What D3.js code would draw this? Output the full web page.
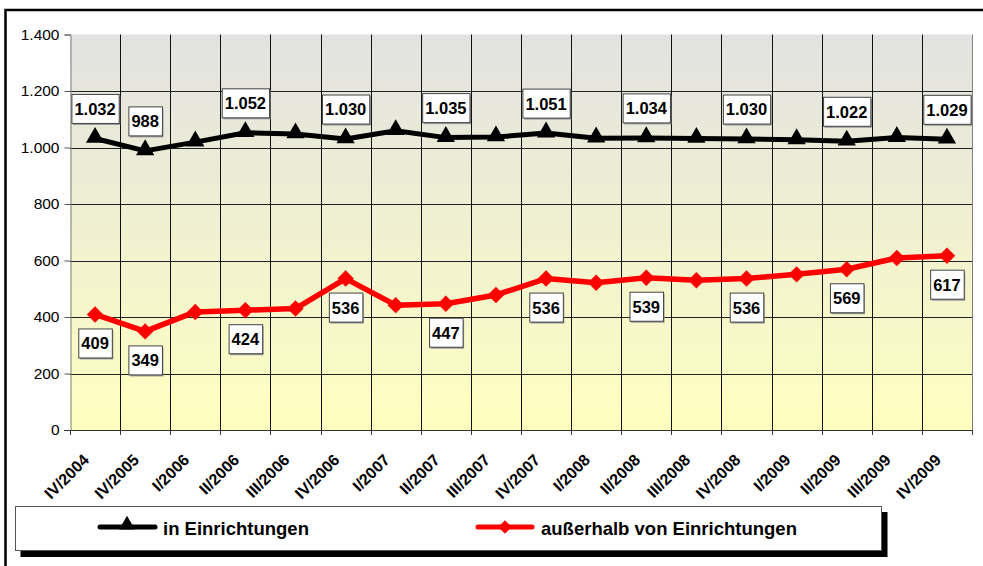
<!DOCTYPE html>
<html>
<head>
<meta charset="utf-8">
<script src="https://cdn.jsdelivr.net/npm/d3@7"></script>
<style>
    body { margin: 0; background: #fff; }
    svg { display: block; font-family: "Liberation Sans", Arial, sans-serif; }
</style>
</head>
<body>
<svg id="chart" width="983" height="566"></svg>
<script>
var categories = ["IV/2004", "IV/2005", "I/2006", "II/2006", "III/2006", "IV/2006",
    "I/2007", "II/2007", "III/2007", "IV/2007", "I/2008", "II/2008", "III/2008",
    "IV/2008", "I/2009", "II/2009", "III/2009", "IV/2009"];
var inEinrichtungen = [1032, 988, 1019, 1052, 1048, 1030, 1059, 1035, 1037, 1051,
    1033, 1034, 1032, 1030, 1027, 1022, 1035, 1029];
var ausserhalb = [409, 349, 418, 424, 430, 536, 442, 447, 478, 536,
    521, 539, 530, 536, 551, 569, 609, 617];
var labelled = [0, 1, 3, 5, 7, 9, 11, 13, 15, 17];
var yTicks = [0, 200, 400, 600, 800, 1000, 1200, 1400];
var seriesNames = ["in Einrichtungen", "außerhalb von Einrichtungen"];

(function () {
    var svg = d3.select("#chart");
    var left = 70, right = 972, top = 34.5, bottom = 430;

    var de = d3.formatLocale({decimal: ",", thousands: ".", grouping: [3], currency: ["", " €"]});
    var fmt = de.format(",d");

    var x = d3.scaleBand().domain(categories).range([left, right]).padding(0);
    var y = d3.scaleLinear().domain([0, 1400]).range([bottom, top]);
    var cx = function (d, i) { return x(categories[i]) + x.bandwidth() / 2; };

    // outer frame (cut off at right and bottom)
    svg.append("rect")
        .attr("x", 5.5).attr("y", 10)
        .attr("width", 1200).attr("height", 1000)
        .style("fill", "none").style("stroke", "#000").style("stroke-width", 2.5);

    var grad = svg.append("defs").append("linearGradient")
        .attr("id", "bg").attr("x1", 0).attr("y1", 0).attr("x2", 0).attr("y2", 1);
    grad.append("stop").attr("offset", "0%").attr("stop-color", "#e2e2e2");
    grad.append("stop").attr("offset", "100%").attr("stop-color", "#ffffc0");

    svg.append("rect")
        .attr("x", left).attr("y", top)
        .attr("width", right - left).attr("height", bottom - top)
        .style("fill", "url(#bg)");

    // grid
    svg.append("g").selectAll("line")
        .data(yTicks.slice(1, -1))
        .enter().append("line")
        .attr("x1", left).attr("x2", right)
        .attr("y1", function (d) { return Math.round(y(d)) + 0.5; })
        .attr("y2", function (d) { return Math.round(y(d)) + 0.5; })
        .style("stroke", "#222").style("stroke-width", 1);

    var bounds = categories.map(function (c) { return x(c); }).concat([right]);
    svg.append("g").selectAll("line")
        .data(bounds.slice(1))
        .enter().append("line")
        .attr("x1", function (d) { return Math.round(d) + 0.5; })
        .attr("x2", function (d) { return Math.round(d) + 0.5; })
        .attr("y1", top).attr("y2", bottom + 5)
        .style("stroke", function (d, i) { return i === bounds.length - 2 ? "#808080" : "#111"; })
        .style("stroke-width", 1);

    // y axis
    var yAxis = svg.append("g")
        .attr("transform", "translate(" + (left + 0.5) + ",0)")
        .call(d3.axisLeft(y).tickValues(yTicks).tickFormat(fmt).tickSize(6).tickPadding(5));
    yAxis.select(".domain").style("stroke", "#808080");
    yAxis.selectAll(".tick line").style("stroke", "#555");
    yAxis.selectAll("text").style("font-size", "15.5px").style("fill", "#000")
        .style("font-family", "'Liberation Sans', Arial, sans-serif");

    // x axis
    svg.append("line")
        .attr("x1", left - 6).attr("x2", right)
        .attr("y1", bottom + 0.5).attr("y2", bottom + 0.5)
        .style("stroke", "#333");
    svg.append("g").selectAll("line")
        .data(bounds)
        .enter().append("line")
        .attr("x1", function (d) { return Math.round(d) + 0.5; })
        .attr("x2", function (d) { return Math.round(d) + 0.5; })
        .attr("y1", bottom).attr("y2", bottom + 5)
        .style("stroke", "#333");
    svg.append("g").selectAll("text")
        .data(categories)
        .enter().append("text")
        .attr("transform", function (d, i) {
            return "translate(" + (cx(d, i) - 5) + "," + (bottom + 31) + ") rotate(-45)";
        })
        .attr("text-anchor", "end")
        .style("font-size", "16px").style("font-weight", "bold")
        .text(function (d) { return d; });

    // series
    var line = d3.line()
        .x(function (d, i) { return cx(d, i); })
        .y(function (d) { return y(d); });

    svg.append("path").datum(ausserhalb)
        .attr("d", line)
        .style("fill", "none").style("stroke", "#ff0000").style("stroke-width", 5.5)
        .style("stroke-linejoin", "round");
    svg.append("g").selectAll("path")
        .data(ausserhalb)
        .enter().append("path")
        .attr("d", d3.symbol(d3.symbolSquare, 135))
        .attr("transform", function (d, i) { return "translate(" + cx(d, i) + "," + y(d) + ") rotate(45)"; })
        .style("fill", "#ff0000");

    svg.append("path").datum(inEinrichtungen)
        .attr("d", line)
        .style("fill", "none").style("stroke", "#000").style("stroke-width", 5)
        .style("stroke-linejoin", "round");
    svg.append("g").selectAll("path")
        .data(inEinrichtungen)
        .enter().append("path")
        .attr("d", d3.symbol(d3.symbolTriangle, 145))
        .attr("transform", function (d, i) { return "translate(" + cx(d, i) + "," + (y(d) - 1) + ")"; })
        .style("fill", "#000");

    // data labels
    function labels(values, offset) {
        var g = svg.append("g").selectAll("g")
            .data(labelled)
            .enter().append("g")
            .attr("transform", function (i) {
                return "translate(" + cx(null, i) + "," + (y(values[i]) + offset) + ")";
            });
        var t = g.append("text")
            .attr("text-anchor", "middle")
            .attr("dy", "0.36em")
            .style("font-size", "16.5px").style("font-weight", "bold")
            .text(function (i) { return fmt(values[i]); });
        t.each(function () {
            var w = this.getComputedTextLength() + 6;
            var p = d3.select(this.parentNode);
            p.insert("rect", "text")
                .attr("x", -w / 2 + 1.5).attr("y", -13)
                .attr("width", w).attr("height", 29)
                .style("fill", "#999");
            p.insert("rect", "text")
                .attr("x", -w / 2 + 0.5).attr("y", -14.5)
                .attr("width", w).attr("height", 29)
                .style("fill", "#fff").style("stroke", "#444").style("stroke-width", 1);
        });
    }
    labels(inEinrichtungen, -29.5);
    labels(ausserhalb, 29);

    // legend
    var lg = svg.append("g");
    lg.append("rect")
        .attr("x", 20.5).attr("y", 512)
        .attr("width", 867).attr("height", 45)
        .style("fill", "#000");
    lg.append("rect")
        .attr("x", 15.5).attr("y", 506.5)
        .attr("width", 866).attr("height", 44)
        .style("fill", "#fff").style("stroke", "#555").style("stroke-width", 1);

    lg.append("line")
        .attr("x1", 100).attr("x2", 155).attr("y1", 527).attr("y2", 527)
        .style("stroke", "#000").style("stroke-width", 5).style("stroke-linecap", "round");
    lg.append("path")
        .attr("d", d3.symbol(d3.symbolTriangle, 110))
        .attr("transform", "translate(127,525)")
        .style("fill", "#000");
    lg.append("line")
        .attr("x1", 478).attr("x2", 532).attr("y1", 527).attr("y2", 527)
        .style("stroke", "#ff0000").style("stroke-width", 5).style("stroke-linecap", "round");
    lg.append("path")
        .attr("d", d3.symbol(d3.symbolSquare, 90))
        .attr("transform", "translate(505,527) rotate(45)")
        .style("fill", "#ff0000");

    lg.selectAll("text")
        .data(seriesNames)
        .enter().append("text")
        .attr("x", function (d, i) { return i === 0 ? 163 : 541; })
        .attr("y", 535)
        .style("font-size", "18.5px").style("font-weight", "bold")
        .text(function (d) { return d; });
}());
</script>
</body>
</html>
